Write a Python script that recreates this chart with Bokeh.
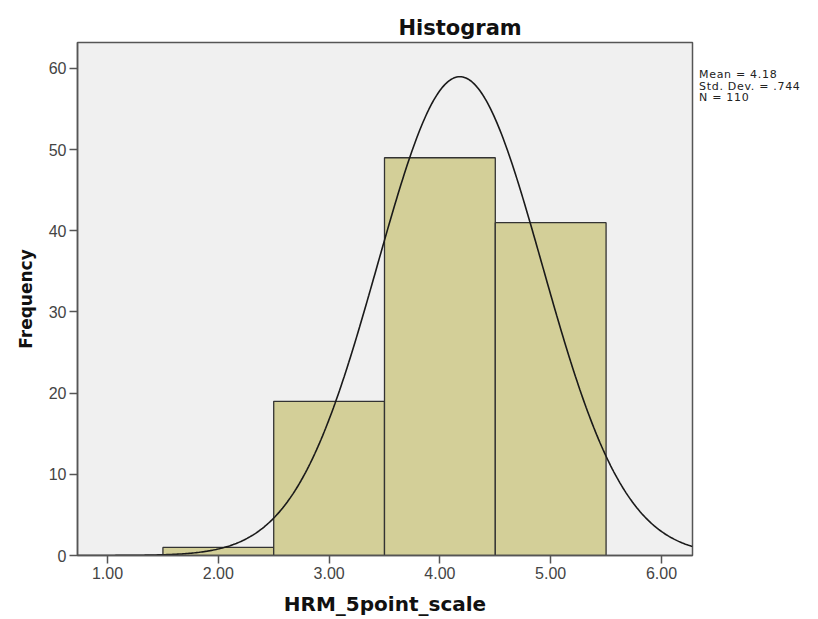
import numpy as np
from bokeh.plotting import figure
from bokeh.models import FixedTicker, Range1d, Div
from bokeh.layouts import row
from bokeh.embed import file_html
from bokeh.resources import INLINE

# Data
bin_left = [1.5, 2.5, 3.5, 4.5]
bin_right = [2.5, 3.5, 4.5, 5.5]
counts = [1, 19, 49, 41]
mean = 4.18
std_dev = 0.744
n_obs = 110
bin_width = 1.0
x_ticks = [1, 2, 3, 4, 5, 6]
x_tick_labels = {1: "1.00", 2: "2.00", 3: "3.00", 4: "4.00", 5: "5.00", 6: "6.00"}
y_ticks = [0, 10, 20, 30, 40, 50, 60]
stats_lines = ["Mean = 4.18", "Std. Dev. = .744", "N = 110"]

FONT = "Liberation Sans"
BOLD = "DejaVu Sans"
H = 618

p = figure(width=700, height=H, output_backend="svg", toolbar_location=None,
           x_range=Range1d(0.729, 6.28), y_range=Range1d(0, 63.2),
           min_border_left=77, min_border_right=8, min_border_top=42,
           min_border_bottom=58, title="Histogram")
p.title.align = "left"
p.title.text_font = BOLD
p.title.text_font_size = "21px"
p.title.text_font_style = "bold"
p.title.text_color = "#111111"
p.title.offset = 321
p.title.standoff = 6

p.background_fill_color = "#f0f0f0"
p.border_fill_color = "white"
p.outline_line_color = "#555555"
p.outline_line_width = 1.5
p.xgrid.grid_line_color = None
p.ygrid.grid_line_color = None

p.quad(left=bin_left, right=bin_right, bottom=0, top=counts,
       fill_color="#d3cf98", line_color="#333333", line_width=1.3)

xs = np.linspace(0.729, 6.28, 400)
ys = n_obs * bin_width * np.exp(-0.5 * ((xs - mean) / std_dev) ** 2) / (std_dev * np.sqrt(2 * np.pi))
p.line(xs, ys, line_color="#1a1a1a", line_width=1.6)

for ax in (p.xaxis[0], p.yaxis[0]):
    ax.axis_line_color = "#555555"
    ax.axis_line_width = 1.5
    ax.major_tick_line_color = "#555555"
    ax.major_tick_line_width = 1.5
    ax.major_tick_out = 8
    ax.major_tick_in = 0
    ax.minor_tick_line_color = None
    ax.major_label_text_font = FONT
    ax.major_label_text_font_size = "16px"
    ax.major_label_text_color = "#444444"
    ax.major_label_standoff = 3
    ax.axis_label_text_font = BOLD
    ax.axis_label_text_font_style = "bold"
    ax.axis_label_text_color = "#111111"

p.xaxis.axis_label_text_font_size = "20px"
p.yaxis.axis_label_text_font_size = "17px"
p.xaxis.ticker = FixedTicker(ticks=x_ticks)
p.xaxis.major_label_overrides = x_tick_labels
p.yaxis.ticker = FixedTicker(ticks=y_ticks)
p.xaxis.axis_label = "HRM_5point_scale"
p.yaxis.axis_label = "Frequency"
p.xaxis.axis_label_standoff = 10
p.yaxis.axis_label_standoff = 10

stats_html = "<br>".join(stats_lines)
div = Div(text=stats_html, width=108, height=60, margin=(69, 0, 0, -1),
          styles={"font-family": "DejaVu Sans", "font-size": "11px",
                  "line-height": "11.5px", "color": "#222222",
                  "letter-spacing": "0.7px", "white-space": "nowrap"})

layout = row(p, div)
open("out.html", "w").write(file_html(layout, INLINE))
